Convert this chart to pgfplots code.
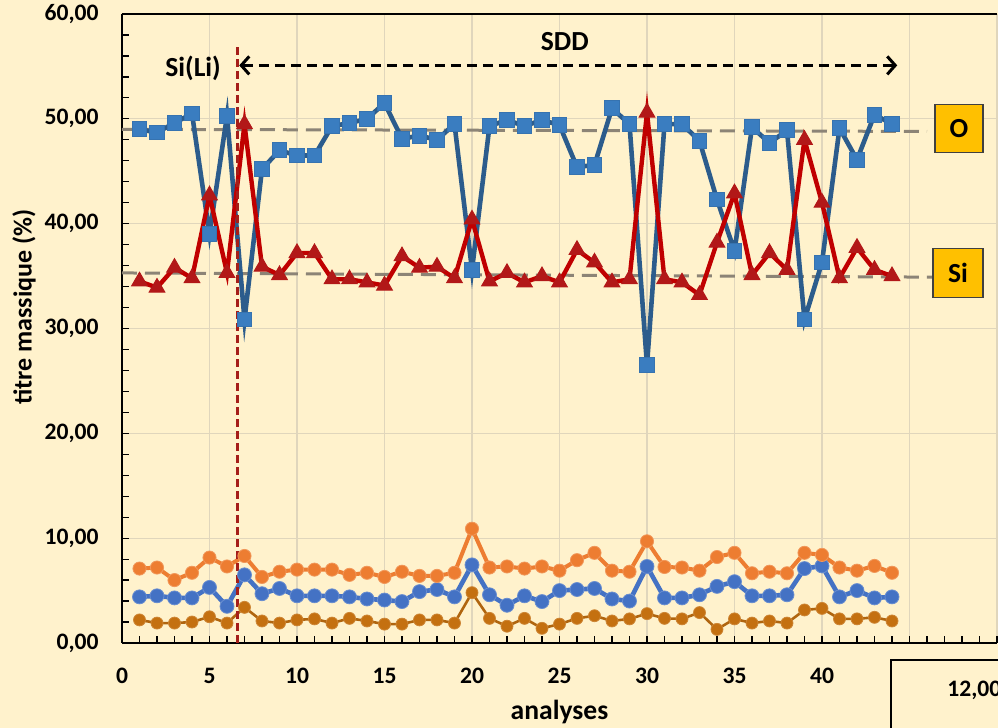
\documentclass[border=0pt]{standalone}
\usepackage{fontspec}
\setmainfont{Carlito}
\usepackage{pgfplots}
\usepackage{pgfplotstable}
\pgfplotsset{compat=1.18}
\usetikzlibrary{arrows.meta}

\definecolor{bg}{HTML}{FFF2CC}
\definecolor{gridc}{RGB}{224,214,188}
\definecolor{oline}{RGB}{44,92,140}
\definecolor{ofill}{RGB}{58,125,192}
\definecolor{siline}{RGB}{192,0,0}
\definecolor{sifill}{RGB}{178,24,24}
\definecolor{orng}{HTML}{ED7D31}
\definecolor{blu}{HTML}{4472C4}
\definecolor{dorng}{RGB}{196,112,16}
\definecolor{refgray}{RGB}{140,132,118}
\definecolor{vred}{RGB}{165,30,25}
\definecolor{gold}{HTML}{FFC000}

% x: analyse, O, Si, then the three minor elements
\pgfplotstableread{
x  O     Si    E1    E2    E3
1  49.0  34.5  7.1   4.4   2.2
2  48.7  33.9  7.2   4.5   1.9
3  49.6  35.8  6.0   4.3   1.9
4  50.5  34.8  6.7   4.3   2.0
5  39.0  42.7  8.15  5.3   2.5
6  50.3  35.3  7.3   3.5   1.9
7  30.85 49.5  8.3   6.5   3.4
8  45.2  35.9  6.3   4.7   2.1
9  47.0  35.1  6.8   5.2   1.9
10 46.5  37.2  7.0   4.5   2.2
11 46.5  37.2  7.0   4.5   2.3
12 49.3  34.7  7.0   4.5   1.9
13 49.6  34.7  6.5   4.4   2.35
14 50.0  34.4  6.7   4.2   2.1
15 51.5  34.1  6.3   4.1   1.8
16 48.1  36.9  6.8   3.95  1.8
17 48.4  35.8  6.4   4.9   2.2
18 48.0  35.9  6.4   5.1   2.2
19 49.5  34.8  6.7   4.4   1.9
20 35.6  40.4  10.9  7.45  4.8
21 49.3  34.5  7.2   4.6   2.35
22 49.9  35.3  7.3   3.6   1.6
23 49.3  34.4  7.1   4.5   2.35
24 49.9  35.0  7.3   3.95  1.4
25 49.4  34.4  6.9   5.0   1.8
26 45.4  37.5  7.9   5.1   2.35
27 45.6  36.3  8.6   5.2   2.6
28 51.0  34.4  6.9   4.2   2.1
29 49.5  34.7  6.8   4.0   2.3
30 26.5  50.6  9.7   7.3   2.8
31 49.5  34.7  7.25  4.3   2.35
32 49.5  34.4  7.2   4.3   2.3
33 47.9  33.2  6.9   4.6   2.9
34 42.3  38.2  8.2   5.4   1.3
35 37.4  42.9  8.6   5.85  2.3
36 49.2  35.1  6.65  4.5   1.9
37 47.7  37.2  6.8   4.5   2.1
38 48.9  35.6  6.65  4.6   1.9
39 30.85 48.0  8.6   7.1   3.15
40 36.3  42.0  8.4   7.35  3.3
41 49.1  34.8  7.2   4.4   2.3
42 46.1  37.7  6.9   5.0   2.3
43 50.4  35.6  7.35  4.3   2.45
44 49.5  35.0  6.7   4.4   2.1
}\analyses

\newcommand{\tickfont}{\bfseries\fontsize{11.8}{13}\selectfont}
\newcommand{\labfont}{\bfseries\fontsize{13.8}{16}\selectfont}

\begin{document}
\begin{tikzpicture}
\fill[bg] (-61pt,-42.5pt) rectangle (440pt,321.5pt);
\begin{axis}[
  scale only axis, width=437.5pt, height=314.5pt,
  xmin=0, xmax=50, ymin=0, ymax=60,
  axis x line=box, axis y line=left,
  axis line style={-, black, line width=0.8pt},
  xtick pos=left, ytick pos=left,
  xtick={0,5,...,50}, ytick={0,10,...,60},
  xticklabels={0,5,10,15,20,25,30,35,40,{},{}},
  minor x tick num=4, minor y tick num=4,
  tick align=inside,
  major tick length=3.5pt, minor tick length=3.5pt,
  every tick/.style={black, line width=0.6pt},
  grid=major,
  major grid style={gridc, line width=0.6pt},
  clip=false,
  y tick label style={font=\tickfont, anchor=east, inner sep=0pt, xshift=-11.5pt,
    /pgf/number format/.cd, fixed, fixed zerofill, precision=2, use comma, assume math mode=true},
  x tick label style={font=\tickfont, anchor=north, inner sep=0pt, yshift=-12.3pt},
]
% reference levels for O and Si
\addplot[refgray, line width=1.5pt, dash pattern=on 7.5pt off 4pt] coordinates {(0,49.0) (46,48.8)};
\addplot[refgray, line width=1.5pt, dash pattern=on 7.5pt off 4pt] coordinates {(0,35.3) (46.3,34.9)};

% minor elements
\addplot[dorng!90!black, line width=1.3pt, mark=*, mark size=3pt,
  mark options={fill=dorng, draw=dorng!85!white, line width=0.4pt}] table[x=x, y=E3] {\analyses};
\addplot[blu, line width=2.3pt, mark=*, mark size=3.5pt,
  mark options={fill=blu, draw=blu!80!white, line width=0.4pt}] table[x=x, y=E2] {\analyses};
\addplot[orng, line width=2pt, mark=*, mark size=3.3pt,
  mark options={fill=orng, draw=orng!80!white, line width=0.4pt}] table[x=x, y=E1] {\analyses};

% O and Si
\addplot[oline, line width=2.3pt, mark=square*, mark size=3.7pt,
  mark options={fill=ofill, draw=ofill!70!oline, line width=0.5pt}] table[x=x, y=O] {\analyses};
\addplot[siline, line width=2.2pt, mark=triangle*, mark size=4.5pt,
  mark options={fill=sifill, draw=sifill, line width=0.5pt}] table[x=x, y=Si] {\analyses};

% detector change
\addplot[vred, line width=1.25pt, dash pattern=on 4pt off 2pt] coordinates {(6.6,0) (6.6,57.1)};
\draw[black, line width=1.5pt, dash pattern=on 5.3pt off 2.7pt,
  {Straight Barb[length=4pt,width=9pt]}-{Straight Barb[length=4pt,width=9pt]}]
  (axis cs:6.7,55.1) -- (axis cs:44.3,55.1);
\node[font=\labfont] at (axis cs:25.3,57.4) {SDD};
\node[font=\labfont] at (axis cs:4.06,54.8) {Si(Li)};

% element tags
\node[draw=black!75, fill=gold, line width=0.6pt, minimum width=24pt, minimum height=24pt,
  inner sep=0pt, font=\labfont] at (axis cs:47.83,49.1) {O};
\node[draw=black!75, fill=gold, line width=0.6pt, minimum width=25pt, minimum height=24.5pt,
  inner sep=0pt, font=\labfont] at (axis cs:47.77,35.3) {Si};
\end{axis}

\node[font=\labfont] at (218.75pt,-34.5pt) {analyses};
\node[font=\bfseries\fontsize{13}{15}\selectfont, rotate=90] at (-49pt,168pt) {titre massique (\%)};

\draw[black, line width=0.8pt, fill=bg] (384.5pt,-8.5pt) rectangle (470pt,-60pt);
\node[font=\tickfont, anchor=west, inner sep=0pt] at (412.5pt,-23.5pt) {12,00};

\pgfresetboundingbox
\useasboundingbox (-61pt,-42.5pt) rectangle (438pt,321.5pt);
\end{tikzpicture}
\end{document}
